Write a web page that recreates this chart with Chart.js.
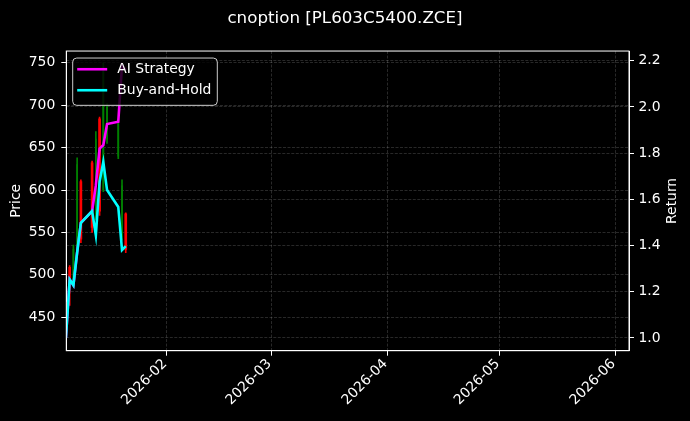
<!DOCTYPE html>
<html>
<head>
<meta charset="utf-8">
<title>cnoption [PL603C5400.ZCE]</title>
<script src="https://cdn.jsdelivr.net/npm/chart.js@4.4.1/dist/chart.umd.min.js"></script>
<style>
  html, body { margin: 0; padding: 0; background: #000; }
  #wrap { width: 690px; height: 421px; }
</style>
</head>
<body>
<div id="wrap"><canvas id="chart"></canvas></div>
<script>
// ---------------- Data ----------------
const dates = ['2026-01-05', '2026-01-06', '2026-01-07', '2026-01-08', '2026-01-09', '2026-01-12',
               '2026-01-13', '2026-01-14', '2026-01-15', '2026-01-16', '2026-01-19', '2026-01-20', '2026-01-21'];
const opens  = [440, 509, 492, 525, 610, 632, 568, 684, 600, 660, 640, 545, 572];
const highs  = [468, 511, 535, 638, 612, 634, 669, 686, 750, 702, 683, 612, 573];
const lows   = [428, 464, 490, 521, 538, 550, 565, 570, 598, 655, 637, 541, 526];
const closes = [458, 492, 530, 630, 542, 556, 660, 575, 740, 698, 678, 605, 530];
const aiStrategy = [1.0, 1.253, 1.228, 1.37, 1.498, 1.549, 1.66, 1.82, 1.835, 1.926, 1.936, 2.18, 2.16];
const buyHold    = [1.0, 1.253, 1.228, 1.37, 1.498, 1.549, 1.445, 1.676, 1.762, 1.64, 1.567, 1.38, 1.397];

const priceTicks = [450, 500, 550, 600, 650, 700, 750];
const returnTicks = [1.0, 1.2, 1.4, 1.6, 1.8, 2.0, 2.2];
const monthTicks = ['2026-02-01', '2026-03-01', '2026-04-01', '2026-05-01', '2026-06-01'];
const xRange = ['2026-01-05T02:24:00Z', '2026-06-04T14:24:00Z'];
const priceRange = [410.6, 763.8];
const returnRange = [0.9446, 2.242];

const titleText = 'cnoption [PL603C5400.ZCE]';
const seriesNames = ['AI Strategy', 'Buy-and-Hold'];

// ---------------- Helpers ----------------
const DAY0 = Date.parse('2026-01-01T00:00:00Z');
function dayNum(s) { return (Date.parse(s) - DAY0) / 86400000; }
function dayLabel(v) { return new Date(DAY0 + v * 86400000).toISOString().slice(0, 7); }

const FONT = 'DejaVu Sans';
const gridColor = 'rgba(255,255,255,0.2)';
const isUp = dates.map((d, i) => closes[i] >= opens[i]);

function rangeData(flag) {
  return dates.map((d, i) => ({ x: dayNum(d), y: [lows[i], highs[i]], up: isUp[i] }))
    .filter(p => p.up === flag);
}
function bodyData(flag) {
  return dates.map((d, i) => ({ x: dayNum(d), y: [Math.min(opens[i], closes[i]), Math.max(opens[i], closes[i])], up: isUp[i] }))
    .filter(p => p.up === flag);
}
function lineData(values) {
  return dates.map((d, i) => ({ x: dayNum(d), y: values[i] }));
}

// ---------------- Overlay: spines, legend, right title ----------------
const overlay = {
  id: 'overlay',
  afterDatasetsDraw(chart) {
    const ctx = chart.ctx;
    const a = chart.chartArea;
    ctx.save();
    ctx.strokeStyle = '#fff';
    ctx.lineWidth = 1;
    ctx.strokeRect(a.left, a.top, a.right - a.left, a.bottom - a.top);

    // legend box (upper left)
    const bx = a.left + 6.4, by = a.top + 7, bw = 144.6, bh = 47.3;
    ctx.beginPath();
    ctx.roundRect(bx, by, bw, bh, 4);
    ctx.fillStyle = 'rgba(0,0,0,0.8)';
    ctx.fill();
    ctx.strokeStyle = '#cccccc';
    ctx.stroke();
    const colors = ['#ff00ff', '#00ffff'];
    ctx.font = '13.9px "' + FONT + '"';
    ctx.textBaseline = 'middle';
    ctx.textAlign = 'left';
    seriesNames.forEach((name, i) => {
      const ly = by + 11.2 + i * 21;
      ctx.beginPath();
      ctx.moveTo(bx + 4.5, ly);
      ctx.lineTo(bx + 34.5, ly);
      ctx.strokeStyle = colors[i];
      ctx.lineWidth = 2.6;
      ctx.stroke();
      ctx.fillStyle = '#fff';
      ctx.fillText(name, bx + 44.6, ly);
    });

    // right axis title, reads bottom to top
    ctx.translate(chart.width - 17.5, (a.top + a.bottom) / 2);
    ctx.rotate(-Math.PI / 2);
    ctx.textAlign = 'center';
    ctx.fillStyle = '#fff';
    ctx.fillText('Return', 0, 0);
    ctx.restore();
  }
};

// ---------------- Chart ----------------
function tickFont() { return { family: FONT, size: 13.9 }; }

new Chart(document.getElementById('chart'), {
  type: 'line',
  data: {
    datasets: [
      { type: 'line', label: seriesNames[1], data: lineData(buyHold), yAxisID: 'yR',
        borderColor: '#00ffff', borderWidth: 2.6, pointRadius: 0, tension: 0, fill: false, order: 0 },
      { type: 'line', label: seriesNames[0], data: lineData(aiStrategy), yAxisID: 'yR',
        borderColor: '#ff00ff', borderWidth: 2.6, pointRadius: 0, tension: 0, fill: false, order: 1 },
      { type: 'bar', label: 'down body', data: bodyData(false), yAxisID: 'yL', grouped: false,
        backgroundColor: '#ff0000', barThickness: 2, borderWidth: 0, order: 2 },
      { type: 'bar', label: 'down wick', data: rangeData(false), yAxisID: 'yL', grouped: false,
        backgroundColor: '#ff0000', barThickness: 1, borderWidth: 0, order: 3 },
      { type: 'bar', label: 'up body', data: bodyData(true), yAxisID: 'yL', grouped: false,
        backgroundColor: '#008000', barThickness: 1, borderWidth: 0, order: 4 },
      { type: 'bar', label: 'up wick', data: rangeData(true), yAxisID: 'yL', grouped: false,
        backgroundColor: '#008000', barThickness: 1, borderWidth: 0, order: 5 }
    ]
  },
  options: {
    responsive: true,
    maintainAspectRatio: false,
    animation: false,
    events: [],
    layout: { padding: 0 },
    plugins: {
      legend: { display: false },
      tooltip: { enabled: false },
      title: {
        display: true, text: titleText, color: '#fff',
        font: { family: FONT, size: 16.7, weight: 'normal' },
        padding: { top: 9, bottom: 22 }
      }
    },
    scales: {
      x: {
        type: 'linear', position: 'bottom', offset: false,
        min: dayNum(xRange[0]), max: dayNum(xRange[1]),
        afterBuildTicks: s => { s.ticks = monthTicks.map(m => ({ value: dayNum(m) })); },
        afterFit: s => { s.height = 70.3; },
        ticks: { color: '#fff', font: tickFont(), autoSkip: false, minRotation: 45, maxRotation: 45,
                 padding: 0, labelOffset: -2, callback: v => dayLabel(v) },
        grid: { offset: false, color: gridColor, lineWidth: 0.8, tickLength: 5, tickColor: '#fff', tickWidth: 1 },
        border: { color: '#fff', width: 1, dash: [3, 1.5] }
      },
      yL: {
        type: 'linear', position: 'left',
        min: priceRange[0], max: priceRange[1],
        afterBuildTicks: s => { s.ticks = priceTicks.map(v => ({ value: v })); },
        afterFit: s => { s.width = 66.3; },
        ticks: { color: '#fff', font: tickFont(), padding: 6, callback: v => String(v) },
        grid: { color: gridColor, lineWidth: 0.8, tickLength: 5, tickColor: '#fff', tickWidth: 1 },
        border: { color: '#fff', width: 1, dash: [3, 1.5] },
        title: { display: true, text: 'Price', color: '#fff', font: tickFont(), padding: { top: 8.5, bottom: 0 } }
      },
      yR: {
        type: 'linear', position: 'right',
        min: returnRange[0], max: returnRange[1],
        afterBuildTicks: s => { s.ticks = returnTicks.map(v => ({ value: v })); },
        afterFit: s => { s.width = 61; },
        ticks: { color: '#fff', font: tickFont(), padding: 4.5, callback: v => v.toFixed(1) },
        grid: { color: gridColor, lineWidth: 0.8, tickLength: 5, tickColor: '#fff', tickWidth: 1 },
        border: { color: '#fff', width: 1, dash: [3, 1.5] }
      }
    }
  },
  plugins: [overlay]
});
</script>
</body>
</html>
